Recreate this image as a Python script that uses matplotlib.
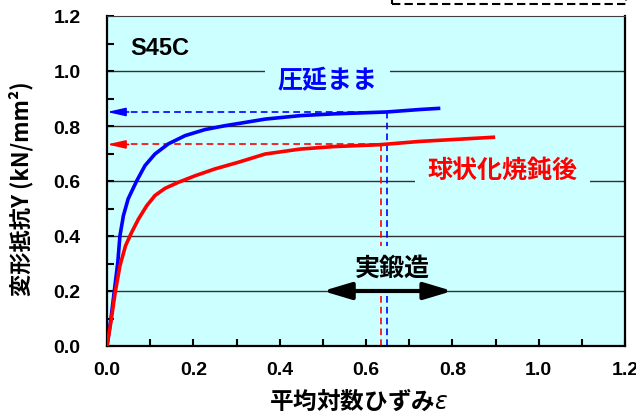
import numpy as np
import matplotlib
matplotlib.use("Agg")
import matplotlib.pyplot as plt
from matplotlib.patches import Rectangle, FancyArrowPatch

plt.rcParams['font.family'] = ['Noto Sans CJK JP', 'DejaVu Sans']

# as-rolled curve (圧延まま)
eps_rolled = [0, 0.009, 0.017, 0.025, 0.030, 0.038, 0.049, 0.069, 0.088, 0.111,
              0.142, 0.181, 0.227, 0.273, 0.320, 0.366, 0.45, 0.524, 0.648,
              0.725, 0.768]
y_rolled = [0, 0.098, 0.201, 0.304, 0.401, 0.474, 0.535, 0.601, 0.656, 0.698,
            0.735, 0.765, 0.787, 0.801, 0.813, 0.825, 0.838, 0.844, 0.851,
            0.860, 0.864]

# spheroidize annealed curve (球状化焼鈍後)
eps_annealed = [0, 0.009, 0.019, 0.030, 0.043, 0.057, 0.073, 0.092, 0.111, 0.134,
                0.165, 0.204, 0.250, 0.304, 0.366, 0.447, 0.524, 0.632, 0.725,
                0.895]
y_annealed = [0, 0.087, 0.195, 0.292, 0.365, 0.413, 0.462, 0.510, 0.547, 0.573,
              0.595, 0.619, 0.644, 0.668, 0.698, 0.716, 0.725, 0.732, 0.744,
              0.759]

# read-off points (dashed guides)
eps_mark = [0.649, 0.634]
y_mark = [0.851, 0.733]
mark_colors = ['#0000ff', '#ff0000']

# actual forging range
forge_range = (0.5, 0.8)
forge_y = 0.2

bg = '#ccffff'

fig = plt.figure(figsize=(6.36, 4.14), dpi=100)
ax = fig.add_axes([107/636, 67/414, 518/636, 330/414])
ax.set_facecolor(bg)
ax.set_xlim(0, 1.2)
ax.set_ylim(0, 1.2)

for gy in np.arange(0.2, 1.01, 0.2):
    ax.axhline(gy, color='#303030', lw=1.0, zorder=1)

for ex, ey, c in zip(eps_mark, y_mark, mark_colors):
    ax.plot([ex, ex], [0, ey], ls=(0, (4, 2.5)), color=c, lw=1.2, zorder=2)
    ax.plot([0.03, ex], [ey, ey], ls=(0, (4, 2.5)), color=c, lw=1.2, zorder=2)
    ax.annotate('', xy=(0, ey), xytext=(0.05, ey),
                arrowprops=dict(arrowstyle='-|>,head_length=1.1,head_width=0.25',
                                color=c, lw=1.2, mutation_scale=10,
                                shrinkA=0, shrinkB=0), zorder=2)

ax.plot(eps_rolled, y_rolled, color='#0000ff', lw=2.6, zorder=3,
        solid_joinstyle='round')
ax.plot(eps_annealed, y_annealed, color='#ff0000', lw=2.6, zorder=3,
        solid_joinstyle='round')

box = dict(boxstyle='square,pad=0.5', facecolor=bg, edgecolor='none')
ax.text(0.511, 0.967, '圧延まま', color='#0000ff', fontsize=18, weight='bold',
        ha='center', va='center', bbox=box, zorder=4)
ax.text(0.917, 0.64, '球状化焼鈍後', color='#ff0000', fontsize=18, weight='bold',
        ha='center', va='center', bbox=box, zorder=4)
ax.text(0.661, 0.285, '実鍛造', color='black', fontsize=18, weight='bold',
        ha='center', va='center',
        bbox=dict(boxstyle='square,pad=0.4', facecolor=bg, edgecolor='none'),
        zorder=4)
ax.text(0.053, 1.084, 'S45C', color='black', fontsize=17, weight='bold',
        family='Liberation Sans', ha='left', va='center', zorder=4)

arr = FancyArrowPatch((forge_range[0], forge_y), (forge_range[1], forge_y),
                      arrowstyle='<|-|>,head_length=1.0,head_width=0.3',
                      mutation_scale=17, color='black', lw=3, zorder=5,
                      shrinkA=0, shrinkB=0)
ax.add_patch(arr)

ax.set_xticks(np.arange(0, 1.21, 0.2))
ax.set_yticks(np.arange(0, 1.21, 0.2))
ax.set_xticks(np.arange(0, 1.21, 0.1), minor=True)
ax.set_yticks(np.arange(0, 1.21, 0.1), minor=True)
ax.set_xticklabels(['%.1f' % v for v in np.arange(0, 1.21, 0.2)])
ax.set_yticklabels(['%.1f' % v for v in np.arange(0, 1.21, 0.2)])
ax.tick_params(which='both', direction='in', length=5, width=1.5, color='black')
ax.tick_params(axis='y', pad=19)
ax.tick_params(axis='x', pad=11)
for lab in ax.get_xticklabels() + ax.get_yticklabels():
    lab.set_family('Liberation Sans')
    lab.set_weight('bold')
    lab.set_fontsize(14)

for side in ['left', 'bottom', 'right']:
    ax.spines[side].set_linewidth(1.6)
ax.spines['top'].set_linewidth(0.8)
ax.spines['top'].set_color('#404040')

ax.set_xlabel('平均対数ひずみ$\\it{ε}$', fontsize=17, weight='bold')
ax.xaxis.set_label_coords(0.485, -0.163)
ax.xaxis.label.set_va('center')
ax.set_ylabel('変形抵抗Y (kN/mm²)', fontsize=16, weight='bold')
ax.yaxis.set_label_coords(-0.166, 0.479)
ax.yaxis.label.set_va('center')

# dashed legend frame cut off at the top
fig.patches.append(Rectangle((392/636, 409/414), 234/636, 0.1,
                             transform=fig.transFigure, fill=False,
                             edgecolor='black', lw=1.5, ls=(0, (4, 2))))

fig.savefig('out.png', dpi=100)
